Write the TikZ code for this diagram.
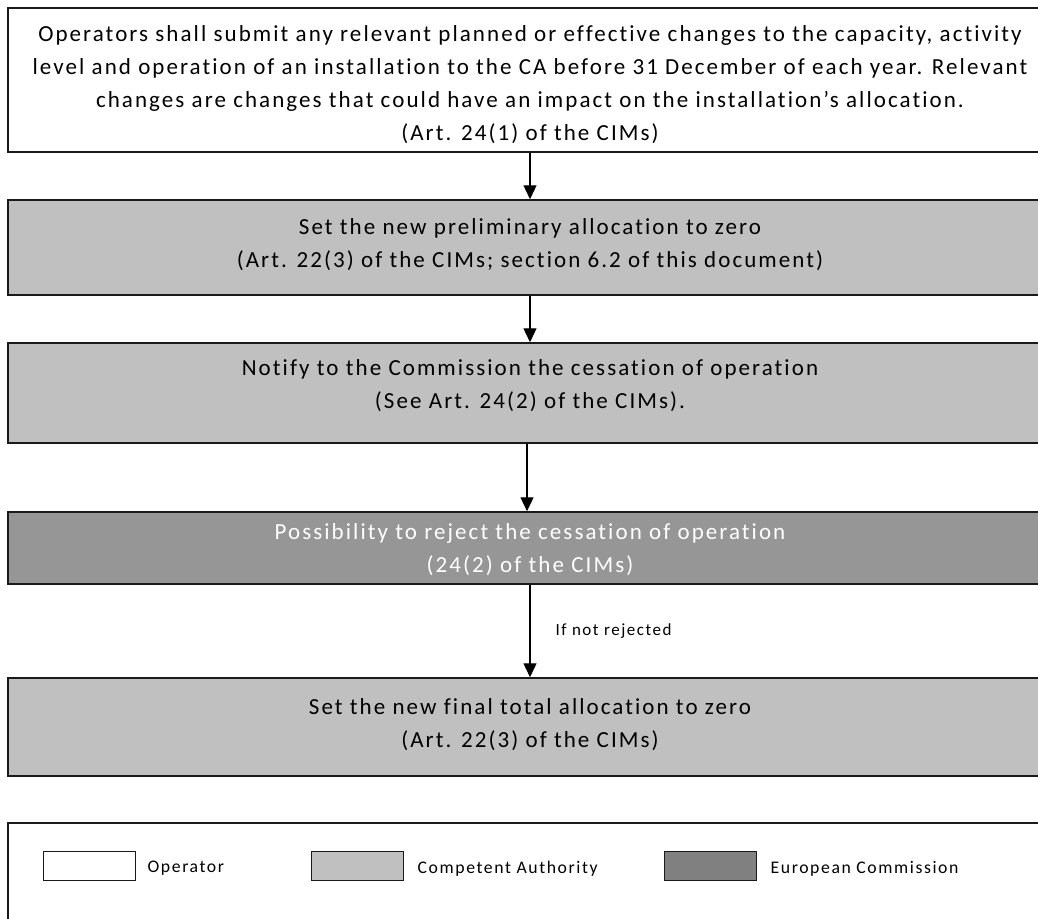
\documentclass[tikz,border=0pt]{standalone}
\usepackage{fontspec}
\setmainfont{Carlito}[LetterSpace=9, Ligatures=NoCommon]
\usepackage{xcolor}
\usepackage{tikz}
\usetikzlibrary{positioning, arrows.meta}
\definecolor{caGray}{HTML}{C0C0C0}
\definecolor{ecGray}{HTML}{969696}
\definecolor{ecSwatchGray}{HTML}{808080}
\definecolor{edgeGray}{HTML}{1A1A1A}
\tikzset{
    stage/.style={rectangle, draw=edgeGray, line width=1.5pt, minimum width=1044pt, inner sep=0pt},
    stageText/.style={align=center, inner sep=0pt, font=\fontsize{23}{33}\selectfont},
    operator/.style={stage, fill=white},
    authority/.style={stage, fill=caGray},
    commission/.style={stage, fill=ecGray},
    swatch/.style={rectangle, draw=edgeGray, line width=1pt, minimum width=92pt, minimum height=29pt, inner sep=0pt},
    legendText/.style={font=\fontsize{17.7}{20}\selectfont, inner sep=0pt, anchor=west, yshift=-3pt},
    arrow/.style={-{Triangle[length=14pt, width=13pt]}, line width=1.3pt}
}
\begin{document}
\begin{tikzpicture}[x=1pt, y=-1pt]
        \clip (0,0) rectangle (1038,918);
        % Steps
        \node[operator, minimum height=144pt, label={[stageText, yshift=-5pt]center:{Operators shall submit any relevant planned or effective changes to the capacity, activity\\level and operation of an installation to the CA before 31 December of each year. Relevant\\changes are changes that could have an impact on the installation’s allocation.\\(Art. 24(1) of the CIMs)}}] (Submit) at (530,80) {};
        \node[authority, minimum height=95pt, label={[stageText, yshift=3pt]center:{Set the new preliminary allocation to zero\\(Art. 22(3) of the CIMs; section 6.2 of this document)}}] (Prelim) at (530,247.5) {};
        \node[authority, minimum height=100pt, label={[stageText, yshift=7pt]center:{Notify to the Commission the cessation of operation\\(See Art. 24(2) of the CIMs).}}] (Notify) at (530,393) {};
        \node[commission, minimum height=72pt, label={[stageText, text=white, yshift=-2pt]center:{Possibility to reject the cessation of operation\\(24(2) of the CIMs)}}] (Reject) at (530,548) {};
        \node[authority, minimum height=98pt, label={[stageText, yshift=2pt]center:{Set the new final total allocation to zero\\(Art. 22(3) of the CIMs)}}] (Final) at (530,727) {};
        
        % Legend
        \node[operator, minimum height=156pt] (Legend) at (530,901) {};
        \node[swatch, fill=white] (OpSwatch) at (89,865.5) {};
        \node[legendText, right=12pt of OpSwatch] (OpLabel) {Operator};
        \node[swatch, fill=caGray] (CaSwatch) at (357,865.5) {};
        \node[legendText, right=14pt of CaSwatch] (CaLabel) {Competent Authority};
        \node[swatch, fill=ecSwatchGray] (EcSwatch) at (710,865.5) {};
        \node[legendText, right=14pt of EcSwatch] (EcLabel) {European Commission};
        
        % Wires
        \draw[arrow] (Submit) -- (Prelim);
        \draw[arrow] (Prelim) -- (Notify);
        \draw[arrow] ([xshift=-3pt]Notify.south) -- ([xshift=-3pt]Reject.north);
        \draw[arrow] (Reject) -- node[midway, right=25pt, font=\fontsize{17}{20}\selectfont, inner sep=0pt] {If not rejected} (Final);

    \end{tikzpicture}
\end{document}
